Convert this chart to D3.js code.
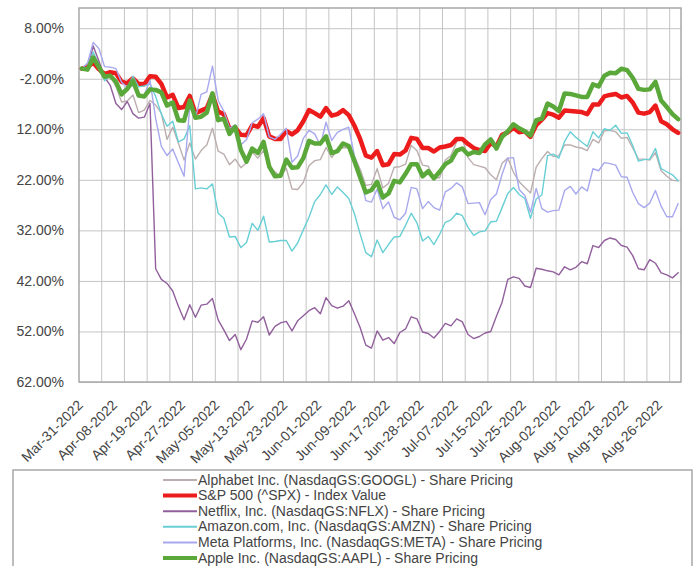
<!DOCTYPE html>
<html><head><meta charset="utf-8">
<script src="https://cdn.jsdelivr.net/npm/d3@7"></script>
<style>body{margin:0;background:#fff;} svg{display:block;font-family:"Liberation Sans",Arial,sans-serif;}</style>
</head><body><svg id="c" width="696" height="566"></svg>
<script>
const dates = [
"Mar-31-2022","Apr-01-2022","Apr-04-2022","Apr-05-2022","Apr-06-2022","Apr-07-2022","Apr-08-2022","Apr-11-2022","Apr-12-2022","Apr-13-2022",
"Apr-14-2022","Apr-18-2022","Apr-19-2022","Apr-20-2022","Apr-21-2022","Apr-22-2022","Apr-25-2022","Apr-26-2022","Apr-27-2022","Apr-28-2022",
"Apr-29-2022","May-02-2022","May-03-2022","May-04-2022","May-05-2022","May-06-2022","May-09-2022","May-10-2022","May-11-2022","May-12-2022",
"May-13-2022","May-16-2022","May-17-2022","May-18-2022","May-19-2022","May-20-2022","May-23-2022","May-24-2022","May-25-2022","May-26-2022",
"May-27-2022","May-31-2022","Jun-01-2022","Jun-02-2022","Jun-03-2022","Jun-06-2022","Jun-07-2022","Jun-08-2022","Jun-09-2022","Jun-10-2022",
"Jun-13-2022","Jun-14-2022","Jun-15-2022","Jun-16-2022","Jun-17-2022","Jun-21-2022","Jun-22-2022","Jun-23-2022","Jun-24-2022","Jun-27-2022",
"Jun-28-2022","Jun-29-2022","Jun-30-2022","Jul-01-2022","Jul-05-2022","Jul-06-2022","Jul-07-2022","Jul-08-2022","Jul-11-2022","Jul-12-2022",
"Jul-13-2022","Jul-14-2022","Jul-15-2022","Jul-18-2022","Jul-19-2022","Jul-20-2022","Jul-21-2022","Jul-22-2022","Jul-25-2022","Jul-26-2022",
"Jul-27-2022","Jul-28-2022","Jul-29-2022","Aug-01-2022","Aug-02-2022","Aug-03-2022","Aug-04-2022","Aug-05-2022","Aug-08-2022","Aug-09-2022",
"Aug-10-2022","Aug-11-2022","Aug-12-2022","Aug-15-2022","Aug-16-2022","Aug-17-2022","Aug-18-2022","Aug-19-2022","Aug-22-2022","Aug-23-2022",
"Aug-24-2022","Aug-25-2022","Aug-26-2022","Aug-29-2022","Aug-30-2022","Aug-31-2022"];

const xTickLabels = ["Mar-31-2022","Apr-08-2022","Apr-19-2022","Apr-27-2022","May-05-2022","May-13-2022","May-23-2022","Jun-01-2022","Jun-09-2022",
"Jun-17-2022","Jun-28-2022","Jul-07-2022","Jul-15-2022","Jul-25-2022","Aug-02-2022","Aug-10-2022","Aug-18-2022","Aug-26-2022"];

const yTickValues = [8, -2, -12, -22, -32, -42, -52, -62];
const yTickLabels = ["8.00%","-2.00%","12.00%","22.00%","32.00%","42.00%","52.00%","62.00%"];

const seriesNames = [
"Alphabet Inc. (NasdaqGS:GOOGL) - Share Pricing",
"S&P 500 (^SPX) - Index Value",
"Netflix, Inc. (NasdaqGS:NFLX) - Share Pricing",
"Amazon.com, Inc. (NasdaqGS:AMZN) - Share Pricing",
"Meta Platforms, Inc. (NasdaqGS:META) - Share Pricing",
"Apple Inc. (NasdaqGS:AAPL) - Share Pricing"];

const googl = [0,1.0,3.1,0.9,-1.8,-1.5,-3.5,-6.6,-6.4,-5.2,
-8.7,-8.2,-6.3,-7.2,-8.8,-14.0,-11.6,-14.7,-18.1,-14.7,
-17.9,-16.2,-15.1,-11.8,-16.3,-16.9,-19.0,-17.9,-19.6,-18.6,
-16.5,-17.7,-16.2,-19.5,-20.4,-21.4,-19.7,-23.8,-23.9,-22.5,
-19.2,-18.2,-18.0,-15.6,-17.6,-16.0,-15.6,-15.7,-17.4,-19.9,
-23.1,-22.9,-19.8,-23.6,-22.7,-19.5,-19.4,-18.9,-15.2,-16.2,
-19.1,-19.3,-21.6,-21.6,-18.1,-17.2,-14.4,-13.9,-17.6,-19.0,
-19.3,-19.6,-21.0,-22.0,-18.7,-17.7,-20.5,-22.4,-23.5,-24.6,
-19.5,-17.8,-16.4,-17.4,-17.2,-15.1,-15.1,-15.5,-15.7,-16.2,
-14.0,-14.7,-12.3,-12.2,-12.5,-13.8,-13.6,-15.7,-17.9,-17.9,
-18.1,-16.6,-20.2,-21.3,-22.1,-22.2];

const spx = [0,0.3,1.2,-0.1,-1.1,-0.7,-0.9,-2.6,-2.9,-1.9,
-3.0,-3.1,-1.5,-1.6,-3.0,-5.7,-5.2,-7.8,-7.6,-5.4,
-8.8,-8.3,-7.8,-5.1,-8.5,-9.0,-11.9,-11.7,-13.1,-13.2,
-11.2,-11.5,-9.8,-13.4,-13.9,-13.9,-12.3,-13.0,-12.2,-10.4,
-8.2,-8.8,-9.5,-7.8,-9.3,-9.0,-8.2,-9.2,-11.3,-13.9,
-17.2,-17.6,-16.3,-19.1,-18.9,-16.9,-17.0,-16.2,-13.7,-13.9,
-15.7,-15.7,-16.4,-15.6,-15.4,-15.1,-13.9,-13.9,-14.9,-15.7,
-16.1,-16.3,-14.7,-15.4,-13.1,-12.6,-11.7,-12.6,-12.4,-13.5,
-11.2,-10.1,-8.8,-9.1,-9.7,-8.3,-8.4,-8.5,-8.6,-9.0,
-7.1,-7.1,-5.5,-5.2,-5.0,-5.7,-5.4,-6.7,-8.7,-8.9,
-8.6,-7.3,-10.4,-11.0,-12.0,-12.7];

const nflx = [0,-0.3,4.5,1.5,-1.7,-3.3,-6.9,-8.1,-6.5,-8.9,
-9.8,-9.6,-6.9,-39.6,-41.7,-42.5,-44.0,-47.0,-49.7,-46.7,
-49.2,-46.8,-46.6,-45.5,-49.7,-51.7,-53.8,-52.6,-55.6,-53.5,
-49.9,-50.2,-49.1,-52.7,-51.0,-50.3,-50.0,-51.9,-49.9,-48.9,
-47.9,-47.3,-48.5,-45.3,-46.9,-47.4,-47.0,-45.9,-48.5,-51.2,
-54.7,-55.3,-51.9,-53.7,-53.2,-54.4,-52.2,-51.5,-49.1,-49.5,
-52.1,-52.4,-53.3,-52.0,-50.4,-50.9,-49.5,-50.1,-52.6,-53.4,
-53.0,-52.3,-52.0,-49.0,-46.2,-41.7,-41.2,-41.5,-43.0,-43.3,
-39.5,-39.7,-40.0,-40.2,-40.8,-39.2,-39.8,-39.3,-38.2,-38.6,
-35.0,-35.4,-34.0,-33.5,-33.8,-35.0,-35.3,-37.0,-39.6,-39.8,
-37.8,-38.5,-40.4,-40.8,-41.4,-40.4];

const amzn = [0,0.3,3.3,0.6,-2.4,-1.3,-3.0,-4.6,-3.7,-1.5,
-3.6,-3.4,-3.0,-5.5,-9.0,-11.4,-10.4,-14.5,-13.9,-11.3,
-23.8,-23.6,-23.8,-22.8,-28.6,-29.6,-33.3,-33.2,-35.4,-34.4,
-30.6,-32.0,-29.2,-34.3,-34.2,-34.0,-34.0,-36.1,-34.5,-31.9,
-29.4,-26.3,-24.9,-23.0,-24.9,-23.4,-24.5,-25.7,-28.7,-32.7,
-36.4,-37.2,-33.9,-36.4,-34.8,-33.3,-33.2,-31.0,-28.6,-30.5,
-34.1,-33.2,-34.8,-32.8,-30.4,-29.9,-28.6,-29.1,-31.4,-33.0,
-32.3,-32.1,-30.3,-30.2,-27.5,-24.7,-23.5,-24.9,-25.7,-29.6,
-25.8,-25.0,-17.2,-16.9,-17.7,-14.4,-12.5,-13.6,-14.5,-15.4,
-12.5,-13.7,-11.9,-12.2,-11.2,-12.8,-12.7,-15.2,-18.3,-18.0,
-17.9,-15.8,-19.8,-20.4,-21.0,-22.2];

const meta = [0,1.1,5.2,4.0,0.4,0.3,0.0,-2.7,-3.7,-3.3,
-5.5,-5.2,-2.3,-9.9,-15.4,-17.2,-15.9,-18.6,-21.3,-7.5,
-9.8,-5.1,-4.6,0.5,-6.3,-8.4,-11.8,-11.1,-15.1,-14.0,
-10.7,-10.0,-8.9,-13.5,-14.0,-13.0,-11.8,-18.5,-17.3,-13.8,
-12.2,-12.9,-15.2,-10.6,-14.2,-12.6,-12.0,-11.6,-17.3,-21.0,
-26.1,-26.4,-23.8,-27.7,-26.4,-29.4,-29.9,-28.6,-23.5,-23.8,
-27.7,-26.3,-27.5,-28.0,-24.4,-23.7,-22.6,-23.4,-26.7,-26.6,
-26.5,-28.9,-25.9,-24.8,-20.9,-17.7,-17.6,-23.9,-25.1,-28.4,
-23.7,-27.7,-28.4,-28.1,-28.0,-24.1,-23.3,-24.8,-23.4,-24.2,
-19.8,-20.2,-18.6,-18.8,-19.1,-21.4,-21.5,-24.5,-26.7,-27.5,
-26.6,-24.1,-27.2,-29.3,-29.3,-26.7];

const aapl = [0,-0.2,2.2,0.3,-1.6,-1.4,-2.6,-5.1,-4.0,-2.4,
-5.3,-5.5,-4.1,-4.2,-4.7,-7.3,-6.7,-10.2,-10.3,-6.3,
-9.7,-9.5,-8.7,-4.9,-10.2,-9.9,-12.9,-11.5,-16.1,-18.4,
-15.8,-16.7,-14.5,-19.4,-21.3,-21.2,-18.0,-19.6,-19.5,-17.7,
-14.3,-14.8,-14.8,-13.4,-16.7,-16.3,-14.8,-15.3,-18.3,-21.5,
-24.5,-24.0,-22.4,-25.5,-24.7,-22.2,-22.5,-20.8,-18.9,-18.9,
-21.3,-20.3,-21.7,-20.4,-18.9,-18.2,-16.2,-15.8,-17.0,-16.5,
-16.7,-15.0,-14.0,-15.8,-13.5,-12.4,-11.0,-11.8,-12.4,-13.2,
-10.2,-9.9,-6.9,-7.5,-8.4,-4.9,-5.0,-5.3,-5.6,-5.6,
-3.1,-3.5,-1.4,-0.8,-0.9,0.0,-0.3,-1.8,-4.0,-4.2,
-4.1,-2.6,-6.3,-7.6,-9.0,-10.0];

const seriesValues = [googl, spx, nflx, amzn, meta, aapl];
const seriesColors = ["#bcaeae", "#ec1c1c", "#915f9c", "#68cfd5", "#a8a8ee", "#5aa83a"];
const seriesWidths = [1.4, 4.5, 1.4, 1.4, 1.4, 4.5];

const svg = d3.select("#c");
const L = 79, R = 681, T = 8, B = 382;

const x = d3.scaleBand().domain(dates).range([L, R]).paddingInner(0).paddingOuter(0);
const xc = d => x(d) + x.bandwidth() / 2;
const y = d3.scaleLinear().domain([-62, 12]).range([B, T]);

// horizontal grid + y labels
const yAxis = d3.axisLeft(y).tickValues(yTickValues)
  .tickFormat((d, i) => yTickLabels[i]).tickSize(-(R - L)).tickPadding(15);
const gy = svg.append("g").attr("transform", `translate(${L},0)`).call(yAxis);
gy.select(".domain").remove();
gy.selectAll(".tick line").attr("stroke", "#c4c4c4").attr("stroke-width", 1);
gy.selectAll(".tick text").attr("fill", "#444").attr("font-size", 14)
  .attr("font-family", "'Liberation Sans', Arial, sans-serif");

// vertical grid every 4 periods
const gridDates = dates.filter((d, i) => i > 0 && i % 4 === 0);
const xGrid = d3.axisBottom(x).tickValues(gridDates).tickSize(-(B - T)).tickFormat("");
const gx = svg.append("g").attr("transform", `translate(0,${B})`).call(xGrid);
gx.select(".domain").remove();
gx.selectAll(".tick").attr("transform", d => `translate(${x(d)},0)`);
gx.selectAll(".tick line").attr("stroke", "#c4c4c4").attr("stroke-width", 1);

// x labels
const xAxis = d3.axisBottom(x).tickValues(xTickLabels).tickSize(0).tickFormat(d => d);
const gl = svg.append("g").attr("transform", `translate(0,${B})`).call(xAxis);
gl.select(".domain").remove();
gl.selectAll(".tick text")
  .attr("font-size", 14).attr("fill", "#444")
  .attr("font-family", "'Liberation Sans', Arial, sans-serif")
  .attr("text-anchor", "end")
  .attr("y", 0).attr("dy", 0)
  .attr("transform", "translate(2,24) rotate(-45)");

// frame
svg.append("rect").attr("x", L).attr("y", T).attr("width", R - L).attr("height", B - T)
  .attr("fill", "none").attr("stroke", "#a8a8a8").attr("stroke-width", 1.5);

// lines
const line = d3.line().x((v, i) => xc(dates[i])).y(v => y(v));
seriesValues.forEach((vals, k) => {
  svg.append("path").datum(vals)
    .attr("d", line)
    .attr("fill", "none")
    .attr("stroke", seriesColors[k])
    .attr("stroke-width", seriesWidths[k])
    .attr("stroke-linejoin", "round")
    .attr("stroke-linecap", "round");
});

// legend
const lg = svg.append("g");
lg.append("rect").attr("x", 13).attr("y", 470).attr("width", 679).attr("height", 120)
  .attr("fill", "#fff").attr("stroke", "#a8a8a8").attr("stroke-width", 1.5);
seriesNames.forEach((name, k) => {
  const cy = 480 + k * 15.6;
  lg.append("line").attr("x1", 163).attr("x2", 197).attr("y1", cy).attr("y2", cy)
    .attr("stroke", seriesColors[k]).attr("stroke-width", seriesWidths[k] > 2 ? 4 : 2);
  lg.append("text").attr("x", 198).attr("y", cy + 4.5)
    .attr("font-size", 14).attr("fill", "#444").text(name);
});
</script></body></html>
